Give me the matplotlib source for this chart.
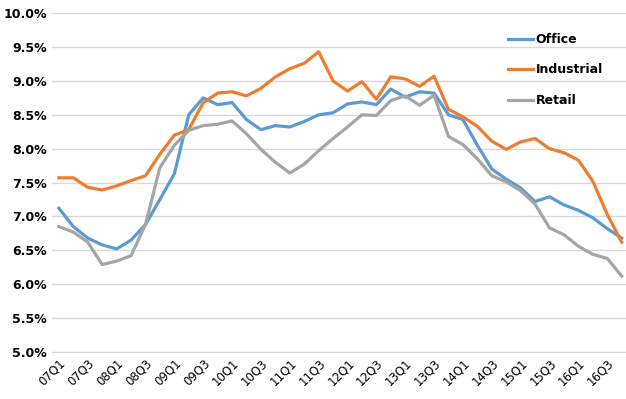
import matplotlib.pyplot as plt
from matplotlib.ticker import FuncFormatter

# quarterly cap rates, 07Q1 .. 16Q4
quarters = [f"{y:02d}Q{q}" for y in range(7, 17) for q in range(1, 5)]

office = [7.12, 6.85, 6.68, 6.58, 6.52, 6.65, 6.88, 7.25, 7.63, 8.50,
          8.75, 8.65, 8.68, 8.43, 8.28, 8.34, 8.32, 8.40, 8.50, 8.53,
          8.66, 8.69, 8.65, 8.88, 8.76, 8.84, 8.82, 8.50, 8.43, 8.05,
          7.70, 7.55, 7.42, 7.22, 7.29, 7.17, 7.09, 6.98, 6.82, 6.68]
industrial = [7.57, 7.57, 7.43, 7.39, 7.45, 7.53, 7.60, 7.92, 8.20, 8.28,
              8.68, 8.82, 8.84, 8.78, 8.89, 9.06, 9.18, 9.26, 9.43, 9.00,
              8.85, 8.99, 8.73, 9.06, 9.03, 8.92, 9.07, 8.58, 8.47, 8.33,
              8.11, 7.99, 8.10, 8.15, 8.00, 7.94, 7.83, 7.52, 7.03, 6.62]
retail = [6.85, 6.77, 6.62, 6.29, 6.34, 6.42, 6.88, 7.72, 8.05, 8.27,
          8.34, 8.36, 8.41, 8.22, 7.99, 7.80, 7.64, 7.77, 7.97, 8.15,
          8.32, 8.50, 8.49, 8.71, 8.78, 8.64, 8.79, 8.18, 8.06, 7.85,
          7.60, 7.51, 7.38, 7.18, 6.83, 6.73, 6.56, 6.44, 6.38, 6.12]

fig = plt.figure(figsize=(6.26, 3.99), dpi=100)
ax = fig.add_axes([0.083, 0.118, 0.917, 0.849])

x = range(len(quarters))
ax.plot(x, office, color="#5B9BD5", lw=2.3, label="Office")
ax.plot(x, industrial, color="#ED7D31", lw=2.3, label="Industrial")
ax.plot(x, retail, color="#A5A5A5", lw=2.3, label="Retail")

ax.set_ylim(5.0, 10.0)
ax.set_yticks([5.0 + 0.5 * i for i in range(11)])
ax.yaxis.set_major_formatter(FuncFormatter(lambda v, p: f"{v:.1f}%"))
ax.set_xlim(-0.48, 39.3)
ax.set_xticks(list(x)[::2])
ax.set_xticklabels(quarters[::2], rotation=45, ha="right", va="top",
                   rotation_mode="anchor")

ax.grid(axis="y", color="#d9d9d9", lw=1)
ax.set_axisbelow(True)
for s in ["top", "right", "left"]:
    ax.spines[s].set_visible(False)
ax.spines["bottom"].set_color("#d9d9d9")
ax.tick_params(length=0, labelsize=9)
for lab in ax.get_yticklabels():
    lab.set_fontweight("bold")
for lab in ax.get_xticklabels():
    lab.set_fontsize(8.5)

ax.legend(loc="upper left", bbox_to_anchor=(0.775, 0.975), frameon=False,
          handlelength=2.0, labelspacing=1.4, handletextpad=0.2,
          prop={"weight": "bold", "size": 9})

fig.savefig("out.png", dpi=100)
